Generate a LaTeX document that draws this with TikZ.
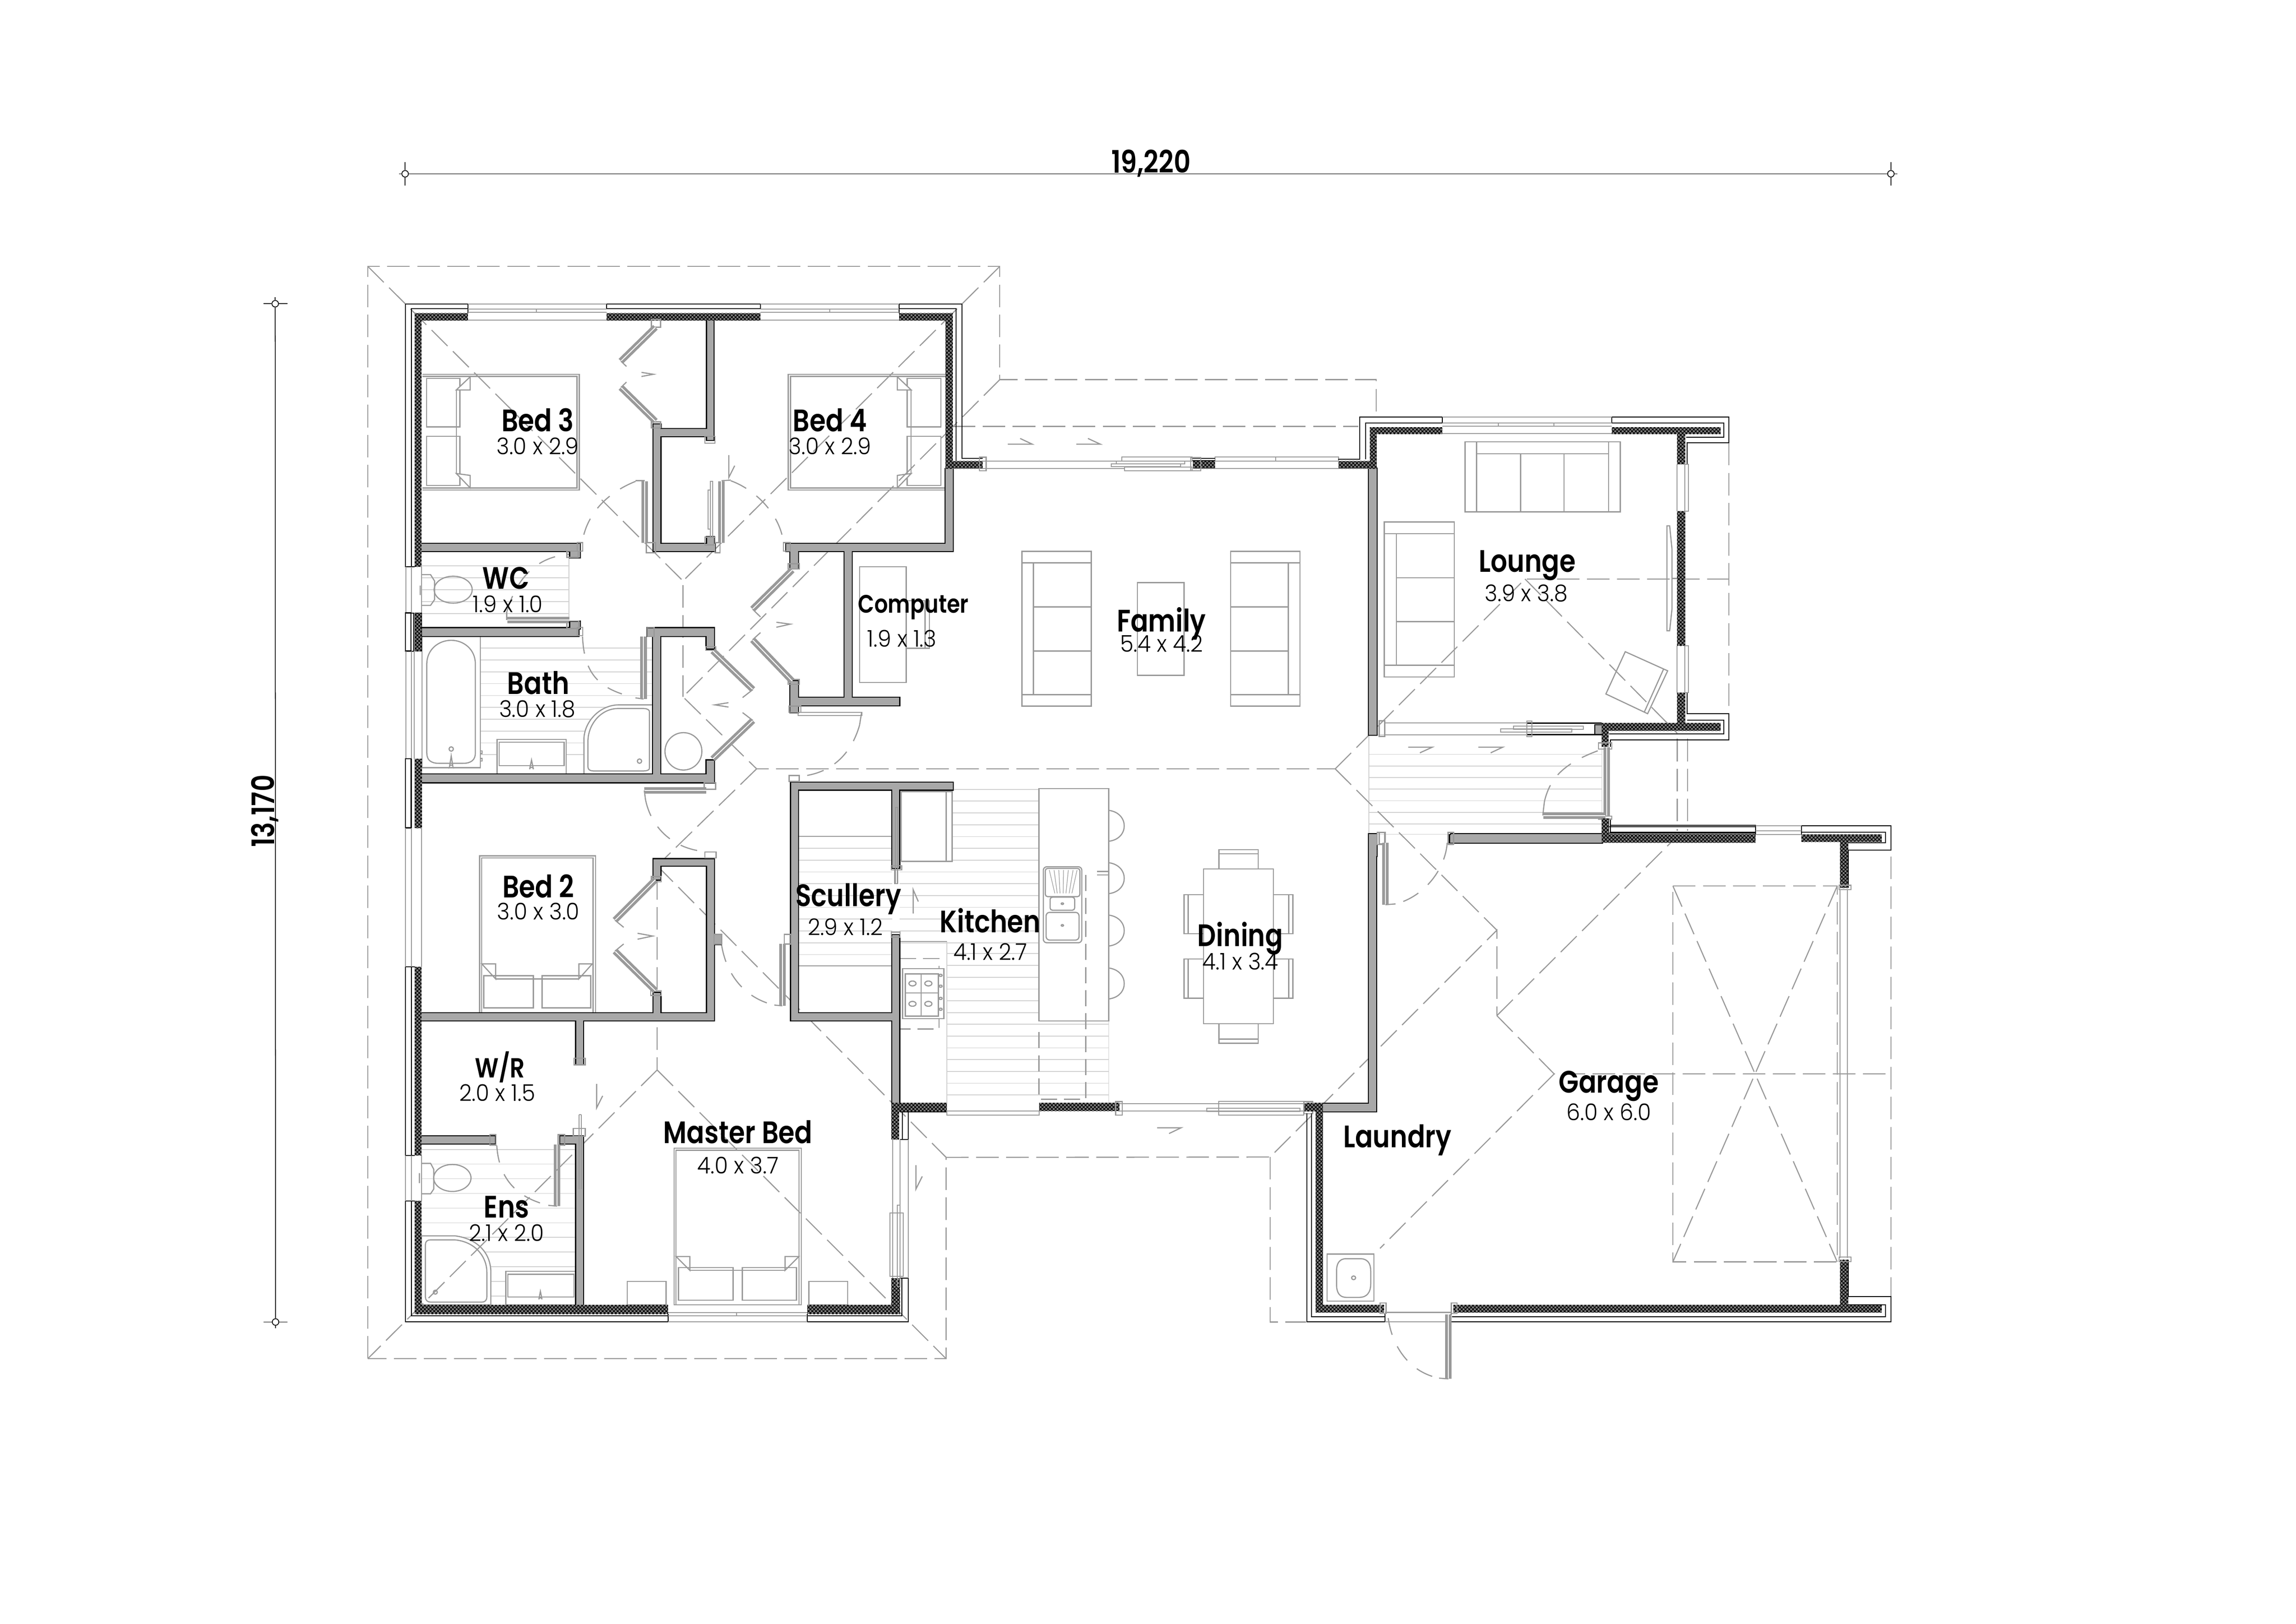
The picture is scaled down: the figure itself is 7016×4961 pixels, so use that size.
\documentclass[tikz,border=0pt]{standalone}
\usepackage{fontspec}
\setmainfont{Poppins}
\newfontfamily\labelfont[FakeStretch=0.84]{Poppins SemiBold}
\newfontfamily\sizefont[FakeStretch=0.95]{Poppins Light}
\usetikzlibrary{patterns.meta}
\definecolor{plangrey}{HTML}{999999}
\definecolor{wallgrey}{HTML}{A8A8A8}
\definecolor{tilegrey}{HTML}{D0D0D0}
\tikzset{
viewA/.style={shift={(1100,780)},xscale=1.2117,yscale=.9566},
viewB/.style={shift={(1100,2300)},xscale=1.2117,yscale=1.2117},
viewC/.style={shift={(2300,2300)},xscale=1.2117,yscale=.8291},
viewD/.style={shift={(3900,1200)},xscale=1.0204,yscale=.9566},
viewE/.style={shift={(3900,2500)},xscale=1.2436,yscale=1.148},
viewF/.style={shift={(2600,1100)},xscale=1.0204,yscale=.8291},
viewG/.style={shift={(1150,1850)},xscale=.829,yscale=.4464},
furn/.style={draw=plangrey,line width=1pt},
whitefurn/.style={furn,fill=white},
tile/.style={draw=tilegrey,line width=.7pt},
roofline/.style={draw=plangrey,line width=.95pt,dash pattern=on 19.6pt off 6.5pt},
swing/.style={draw=plangrey,line width=1pt,dash pattern=on 15pt off 11pt},
leaf/.style={draw=plangrey,line width=2.4pt,double=white,double distance=.8pt},
chevron/.style={draw=plangrey,line width=1pt},
wallline/.style={draw=black,line width=1.8pt},
wallfill/.style={fill=wallgrey},
brick/.style={preaction={fill=black},pattern={Dots[distance=2.3pt,radius=.95pt,angle=45]},pattern color=gray},
clad/.style={draw=black,line width=.8pt},
jamb/.style={draw=plangrey,line width=1pt},
glass/.style={draw=plangrey,line width=.8pt},
roomname/.style={font=\labelfont\fontsize{27}{30}\selectfont,inner sep=0pt},
roomsize/.style={font=\sizefont\fontsize{20}{23}\selectfont,inner sep=0pt},
dimend/.style={circle,draw=black,fill=white,line width=.7pt,minimum size=5.7pt,inner sep=0pt},
dimline/.style={draw=black,line width=.7pt},
}
\newcommand{\wallsA}{875/208/892/590, 758/555/875/578, 740/540/758/945, 740/922/895/945, 875/900/893/925, 155/922/555/945, 530/945/555/965, 1477/682/1495/945, 1075/922/1495/945, 1085/945/1105/1000, 1222/945/1240/1415, 1085/1360/1105/1460, 1105/1413/1360/1437, 530/1170/555/1192}
\newcommand{\wallsB}{875/268/893/675, 740/268/893/285, 740/268/758/320, 740/605/758/660, 155/657/893/675, 890/460/910/482, 545/675/563/785, 155/967/340/985, 505/967/563/985, 545/967/563/1392, 1087/75/1495/93, 1087/75/1105/675, 1342/93/1360/290, 1342/460/1360/885, 1087/657/1342/675}
\newcommand{\wallsG}{168/155/745/208, 1000/155/1245/208, 1020/208/1047/1155, 1217/208/1245/295, 1217/1060/1245/1210, 168/1155/1245/1210}
\newcommand{\wallsD}{277/242/300/1092, 955/1062/975/1090, 520/1412/975/1437, 277/1410/300/1480}
\newcommand{\wallsE}{228/42/245/780, 115/760/245/780, 430/42/800/63}
\newcommand{\wallpass}[1]{%
  \begin{scope}[viewA]\foreach \xa/\ya/\xb/\yb in \wallsA {\path[#1] (\xa,\ya) rectangle (\xb,\yb);}\end{scope}
  \begin{scope}[viewB]\foreach \xa/\ya/\xb/\yb in \wallsB {\path[#1] (\xa,\ya) rectangle (\xb,\yb);}\end{scope}
  \begin{scope}[viewG]\foreach \xa/\ya/\xb/\yb in \wallsG {\path[#1] (\xa,\ya) rectangle (\xb,\yb);}\end{scope}
  \begin{scope}[viewD]\foreach \xa/\ya/\xb/\yb in \wallsD {\path[#1] (\xa,\ya) rectangle (\xb,\yb);}\end{scope}
  \begin{scope}[viewE]\foreach \xa/\ya/\xb/\yb in \wallsE {\path[#1] (\xa,\ya) rectangle (\xb,\yb);}\end{scope}
}
\begin{document}
\begin{tikzpicture}[x=0.01cm,y=-0.01cm]
\useasboundingbox (0,0) rectangle (7016,4961);
\fill[white] (0,0) rectangle (7016,4961);

% tiles
\begin{scope}[viewG]
\foreach \y in {292,373,...,1095} \draw[tile] (383,\y) -- (1020,\y);
\end{scope}
\begin{scope}[viewA]
\foreach \y in {992,1030,...,1180} \draw[tile] (155,\y) -- (527,\y);
\draw[tile] (527,945) -- (527,1192);
\end{scope}
\begin{scope}[viewB]
\foreach \y in {1000,1037,...,1380} \draw[tile] (155,\y) -- (545,\y);
\end{scope}
\begin{scope}[viewC]
\foreach \y in {178,221.5,...,700} \draw[tile] (505,\y) -- (722,\y);
\foreach \y in {352,395.5,...,770} \draw[tile] (115,\y) -- (352,\y);
\foreach \y in {395.5,439,...,700} \draw[tile] (370,\y) -- (505,\y);
\foreach \y in {740,783.5,...,1000} \draw[tile] (490,\y) -- (722,\y);
\foreach \y in {1000,1043.5,...,1280} \draw[tile] (490,\y) -- (898,\y);
\draw[tile] (505,135) -- (722,135);
\draw[tile] (898,988) -- (898,1290) (490,695) -- (490,1290);
\end{scope}
\begin{scope}[viewD]
\foreach \y in {1155,1192,...,1385} \draw[tile] (277,\y) -- (975,\y);
\draw[tile] (277,1093) -- (975,1093) (277,1093) -- (277,1410) -- (975,1410) (975,1093) -- (975,1410);
\end{scope}

% bath and wc fittings
\begin{scope}[viewG]
\draw[whitefurn] (168,208) rectangle (383,1110);
\draw[furn] (186,1010) -- (186,400) .. controls (186,300) and (230,238) .. (276,238) .. controls (322,238) and (365,300) .. (365,400) -- (365,1010) .. controls (365,1055) and (350,1080) .. (320,1080) -- (230,1080) .. controls (200,1080) and (186,1055) .. (186,1010);
\draw[furn] (276,982) ellipse (8 and 15);
\draw[furn] (276,1030) -- (270,1100) arc (180:360:6 and 8) -- cycle;
\draw[furn] (383,995) rectangle (390,1012) (383,1047) rectangle (390,1065);
\draw[whitefurn] (445,917) rectangle (700,1153);
\draw[furn] (453,935) rectangle (692,1095);
\draw[furn] (572,1058) -- (565,1120) arc (180:360:7 and 13) -- cycle;
\draw[furn] (538,1153) rectangle (548,1163) (596,1153) rectangle (606,1163);
\draw[whitefurn] (765,1155) -- (765,920) .. controls (765,800) and (820,685) .. (890,680) -- (1020,680) -- (1020,1155) -- cycle;
\draw[furn] (780,1105) -- (780,930) .. controls (780,810) and (830,705) .. (890,705) -- (985,705) .. controls (1000,705) and (1007,715) .. (1007,730) -- (1007,1110) .. controls (1007,1125) and (1000,1132) .. (985,1132) -- (800,1132) .. controls (787,1132) and (780,1122) .. (780,1105);
\draw[furn] (970,1065) ellipse (8 and 15);
\draw[furn] (1132,998) ellipse (68 and 128);
% bath door
\draw[leaf] (985,212) -- (985,640);
\draw[furn] (985,640) -- (955,632);
\draw[swing] (760,212) .. controls (765,420) and (800,540) .. (905,605);
\end{scope}
\begin{scope}[viewA]
\draw[furn] (155,1020) -- (178,1020) -- (188,1040) -- (188,1100) -- (178,1118) -- (155,1118) (152,1055) -- (152,1085);
\draw[furn] (235,1068) ellipse (48 and 43);
\draw[leaf] (372,1165) -- (528,1165);
\draw[furn] (370,1165) -- (370,1140);
\draw[swing] (370,1140) .. controls (400,1010) and (460,960) .. (530,955);
\end{scope}
\begin{scope}[viewB]
\draw[furn] (155,1035) -- (178,1035) -- (186,1050) -- (186,1100) -- (178,1112) -- (155,1112) (150,1060) -- (150,1085);
\draw[furn] (233,1072) ellipse (47 and 34);
\draw[whitefurn] (155,1218) -- (240,1218) .. controls (295,1225) and (330,1260) .. (330,1310) -- (330,1392) -- (155,1392) -- cycle;
\draw[furn] (165,1240) .. controls (165,1232) and (170,1228) .. (178,1228) -- (238,1228) .. controls (290,1232) and (320,1270) .. (320,1310) -- (320,1372) .. controls (320,1380) and (315,1385) .. (308,1385) -- (178,1385) .. controls (170,1385) and (165,1380) .. (165,1372) -- cycle;
\draw[furn] (190,1360) circle (5);
\draw[whitefurn] (368,1307) rectangle (545,1392);
\draw[furn] (373,1315) rectangle (540,1372);
\draw[furn] (455,1358) -- (451,1378) arc (180:360:4) -- cycle;
\draw[leaf] (497,988) -- (497,1143);
\draw[furn] (497,1143) -- (475,1141);
\draw[swing] (345,990) .. controls (350,1070) and (390,1120) .. (475,1141);
\end{scope}

% beds
\begin{scope}[viewA]
\draw[furn] (158,380) -- (553,380) -- (553,750) -- (158,750);
\draw[furn] (158,387) -- (547,387) -- (547,743) -- (158,743);
\draw[furn] (168,393) rectangle (252,548) (168,578) rectangle (252,735);
\draw[whitefurn] (243,430) -- (278,388) -- (278,430) -- cycle;
\draw[whitefurn] (243,697) -- (278,743) -- (278,703) -- cycle;
\draw[furn] (243,430) -- (243,697);
\draw[furn] (1477,380) -- (1080,380) -- (1080,750) -- (1477,750);
\draw[furn] (1477,387) -- (1086,387) -- (1086,743) -- (1477,743);
\draw[furn] (1380,393) rectangle (1465,548) (1380,578) rectangle (1465,735);
\draw[whitefurn] (1390,430) -- (1355,388) -- (1355,430) -- cycle;
\draw[whitefurn] (1390,697) -- (1355,743) -- (1355,703) -- cycle;
\draw[furn] (1390,430) -- (1390,697);
\end{scope}
\begin{scope}[viewB]
\draw[furn] (302,655) -- (302,260) -- (594,260) -- (594,655);
\draw[furn] (307,655) -- (307,265) -- (588,265) -- (588,655);
\draw[furn] (312,562) rectangle (437,643) (459,562) rectangle (582,643);
\draw[furn] (307,532) -- (342,532) -- (342,570) -- cycle;
\draw[furn] (586,532) -- (552,532) -- (552,570) -- cycle;
\draw[furn] (342,570) -- (552,570);
\draw[furn] (792,1392) -- (792,997) -- (1113,997) -- (1113,1392) -- cycle;
\draw[furn] (797,1392) -- (797,1002) -- (1107,1002) -- (1107,1392);
\draw[furn] (803,1298) rectangle (941,1380) (964,1298) rectangle (1101,1380);
\draw[furn] (797,1270) -- (832,1270) -- (832,1305) -- cycle;
\draw[furn] (1107,1270) -- (1072,1270) -- (1072,1305) -- cycle;
\draw[furn] (832,1305) -- (1072,1305);
\draw[furn] (674,1333) rectangle (772,1392) (1132,1333) rectangle (1230,1392);
\end{scope}

% kitchen and dining
\begin{scope}[viewC]
\draw[furn] (115,308) -- (352,308) (115,785) -- (352,785);
\draw[whitefurn] (375,143) rectangle (503,400);
\draw[furn] (488,143) -- (488,400);
\draw[furn] (358,200) rectangle (365,482);
\draw[whitefurn] (722,132) rectangle (898,988);
\foreach \y in {212,405,598,793} \draw[furn] (898,\y) .. controls (950,\y+10) and (950,\y+105) .. (898,\y+114);
\draw[whitefurn,rounded corners=3pt] (733,420) rectangle (830,700);
\draw[furn,rounded corners=2pt] (738,426) rectangle (825,530);
\foreach \xa/\xb in {748/762,760/768,772/775,784/783,796/790,808/798,818/805} \draw[furn,line width=.5pt] (\xa,432) -- (\xb,518);
\draw[furn,rounded corners=2pt] (750,532) rectangle (812,580);
\draw[furn] (781,556) circle (3);
\draw[furn,rounded corners=3pt] (740,588) rectangle (823,690);
\draw[furn] (781,636) circle (3);
\draw[furn] (868,437) -- (898,437) (868,450) -- (898,450);
\draw[draw=plangrey,line width=1pt,dash pattern=on 14pt off 6pt] (840,450) -- (840,1277) -- (722,1277) -- (722,1005);
\draw[furn] (370,695) -- (490,695);
\draw[draw=plangrey,line width=1pt,dash pattern=on 14pt off 6pt] (372,758) -- (470,758) -- (470,1018) -- (372,1018);
\draw[whitefurn] (378,795) rectangle (482,980);
\draw[furn] (385,815) rectangle (468,970) (385,885) -- (468,885) (425,815) -- (425,970);
\foreach \xa/\ya in {403/850,443/850,403/925,443/925} \draw[furn] (\xa,\ya) circle (9);
\foreach \ya in {820,860,905,945} \draw[furn] (474,\ya) circle (4);
\draw[furn] (1137,428) rectangle (1313,998);
\draw[furn] (1176,428) -- (1176,357) -- (1275,357) -- (1275,428) (1176,372) -- (1275,372);
\draw[furn] (1176,998) -- (1176,1070) -- (1275,1070) -- (1275,998) (1176,1055) -- (1275,1055);
\foreach \ya in {523,760} {
  \draw[furn] (1137,\ya) -- (1088,\ya) -- (1088,\ya+144) -- (1137,\ya+144) (1098,\ya) -- (1098,\ya+144);
  \draw[furn] (1313,\ya) -- (1362,\ya) -- (1362,\ya+144) -- (1313,\ya+144) (1352,\ya) -- (1352,\ya+144);
}
\end{scope}

% family and computer
\begin{scope}[viewF]
\foreach \xa/\xb/\xc in {512/720/547,1137/1345/1310} {
  \draw[furn] (\xa,705) rectangle (\xb,1275);
  \draw[furn] (\xa,747) -- (\xb,747) (\xa,1233) -- (\xb,1233) (\xc,747) -- (\xc,1233);
}
\draw[furn] (547,910) -- (720,910) (547,1072) -- (720,1072);
\draw[furn] (1137,910) -- (1310,910) (1137,1072) -- (1310,1072);
\draw[furn] (858,820) rectangle (998,1162);
\draw[furn] (26,762) rectangle (166,1188);
\draw[furn] (166,887) -- (235,887) -- (235,1062) -- (166,1062) (222,887) -- (222,1062);
\end{scope}

% lounge and sink
\begin{scope}[viewD]
\draw[furn] (565,157) rectangle (1030,380);
\draw[furn] (600,157) -- (600,380) (995,157) -- (995,380) (600,195) -- (995,195) (732,195) -- (732,380) (862,195) -- (862,380);
\draw[furn] (323,413) rectangle (533,908);
\draw[furn] (323,450) -- (533,450) (323,870) -- (533,870) (360,450) -- (360,870) (360,591) -- (533,591) (360,731) -- (533,731);
\draw[furn] (1045,827) -- (1172,888) -- (1112,1025) -- (987,962) -- cycle;
\draw[furn] (1160,882) -- (1102,1020);
\draw[furn] (1170,425) -- (1178,425) -- (1185,500) -- (1185,690) -- (1178,760) -- (1170,760) -- cycle;
\draw[furn] (1185,593) -- (1200,593);
\end{scope}
\begin{scope}[viewE]
\draw[furn] (125,1160) rectangle (240,1285);
\draw[furn] (172,1172) -- (205,1172) .. controls (225,1172) and (232,1185) .. (232,1205) -- (232,1240) .. controls (232,1262) and (222,1275) .. (205,1275) -- (172,1275) .. controls (155,1275) and (148,1262) .. (148,1240) -- (148,1205) .. controls (148,1185) and (155,1172) .. (172,1172);
\draw[furn] (190,1223) circle (5);
\end{scope}

% roof
\draw[roofline] (1124,4151) -- (1124,814) -- (3055,814) -- (3055,1160) -- (4205,1160) -- (4205,1275);
\draw[roofline] (1124,814) -- (2087,1775);
\draw[roofline] (3055,814) -- (2087,1775) -- (2087,2129);
\draw[roofline] (3055,1160) -- (2087,2129) -- (2312,2349) -- (4080,2349);
\draw[roofline] (2911,1303) -- (4151,1303);
\draw[roofline] (2312,2349) -- (2008,2645) -- (2008,3269);
\draw[roofline] (2008,2645) -- (2891,3536) -- (2891,4151) -- (1124,4151);
\draw[roofline] (2008,3269) -- (1124,4151);
\draw[roofline] (2008,3269) -- (2891,4151);
\draw[roofline] (2891,3536) -- (3881,3535) -- (4574,2842) -- (4574,3103);
\draw[roofline] (3881,3535) -- (3881,4039) -- (3990,4039);
\draw[roofline] (4080,2349) -- (4574,2842);
\draw[roofline] (4080,2349) -- (4660,1769) -- (5283,1769);
\draw[roofline] (4660,1769) -- (5125,2240);
\draw[roofline] (5283,1353) -- (5283,2180);
\draw[roofline] (5125,2257) -- (5125,2539) (5157,2257) -- (5157,2539);
\draw[roofline] (4574,3103) -- (5125,2555);
\draw[roofline] (4574,3103) -- (4749,3281) -- (5778,3281);
\draw[roofline] (4749,3281) -- (4217,3814);
\draw[roofline] (5778,2525) -- (5778,4038);
\draw[roofline] (5112,2707) -- (5614,2707) -- (5614,3855) -- (5112,3855) -- cycle;
\draw[roofline] (5112,2707) -- (5614,3855) (5614,2707) -- (5112,3855);

% walls
\wallpass{wallline}
\wallpass{wallfill}

% brick walls
\begin{scope}[viewA]
\foreach \xa/\ya/\xb/\yb in {138/185/272/208, 622/185/1010/208, 1360/185/1495/208, 138/185/155/995, 138/1143/155/1265, 1477/185/1495/682} \path[brick] (\xa,\ya) rectangle (\xb,\yb);
\draw[clad] (272,185) -- (272,155) -- (115,155) -- (115,995) -- (138,995);
\draw[clad] (272,170) -- (130,170) -- (130,995);
\draw[clad] (622,170) rectangle (1010,155);
\draw[clad] (1360,185) -- (1360,155) -- (1518,155) -- (1518,648) -- (1570,648);
\draw[clad] (1360,170) -- (1503,170) -- (1503,660) -- (1570,660);
\draw[clad] (115,1143) -- (135,1143) -- (135,1265) -- (115,1265) -- cycle;
\draw[glass] (272,155) -- (622,155) (272,172) -- (622,172) (272,182) -- (622,182) (272,207) -- (622,207);
\draw[glass] (1010,155) -- (1360,155) (1010,172) -- (1360,172) (1010,182) -- (1360,182) (1010,207) -- (1360,207);
\draw[glass] (445,172) -- (445,182) (1185,172) -- (1185,182);
\foreach \xa/\ya/\xb/\yb in {735/205/758/230, 735/532/758/552, 870/578/895/600, 722/918/745/950, 870/900/895/925, 895/918/908/950, 548/918/562/945, 522/945/550/965, 522/1168/552/1192, 548/1188/562/1215, 725/1188/742/1218, 872/1250/897/1262, 1068/918/1085/945, 1080/985/1108/1002, 1080/1355/1108/1370, 1082/1440/1112/1460} \draw[jamb] (\xa,\ya) rectangle (\xb,\yb);
\end{scope}
\begin{scope}[viewB]
\foreach \xa/\ya/\xb/\yb in {138/15/155/190, 138/540/155/1015, 138/1130/155/1415, 138/1392/777/1415, 1128/1392/1362/1415, 1340/885/1360/975, 1340/1325/1362/1415, 1342/885/1480/905} \path[brick] (\xa,\ya) rectangle (\xb,\yb);
\draw[clad] (115,15) rectangle (130,190);
\draw[clad] (138,540) -- (115,540) -- (115,1015) -- (138,1015) (130,540) -- (130,1015);
\draw[clad] (138,1130) -- (115,1130) -- (115,1435) -- (777,1435) -- (777,1415) (130,1130) -- (130,1420) -- (777,1420);
\draw[clad] (1128,1415) -- (1128,1435) -- (1383,1435) -- (1383,1325) -- (1362,1325) (1128,1420) -- (1367,1420) -- (1367,1325);
\draw[clad] (1383,905) -- (1383,975) -- (1362,975) (1368,905) -- (1368,975) (1362,905) -- (1480,905);
\draw[glass] (115,190) -- (115,540) (130,190) -- (130,540) (155,190) -- (155,540);
\draw[glass] (115,1015) -- (115,1130) (130,1015) -- (130,1130) (155,1015) -- (155,1130);
\draw[glass] (777,1412) -- (1128,1412) (777,1420) -- (1128,1420) (777,1435) -- (1128,1435);
\draw[glass] (950,1412) -- (950,1420);
\draw[glass] (1343,975) -- (1343,1325) (1383,975) -- (1383,1325) (1362,975) -- (1362,1160);
\draw[glass] (1337,1160) rectangle (1370,1320);
\draw[glass] (1355,1140) rectangle (1362,1345);
\draw[glass] (553,912) -- (553,1100) (558,912) -- (558,1100) (553,912) -- (558,912);
\draw[glass] (1350,138) rectangle (1356,330);
\foreach \xa/\ya/\xb/\yb in {735/312/760/325, 733/600/760/612, 870/250/898/265, 540/770/568/787, 328/963/343/990, 500/963/516/990, 1070/458/1087/482, 1082/57/1108/72, 868/75/897/92, 1340/285/1366/295, 1340/452/1362/465, 893/458/912/482, 538/947/568/967} \draw[jamb] (\xa,\ya) rectangle (\xb,\yb);
\end{scope}
\begin{scope}[viewC]
\foreach \xa/\ya/\xb/\yb in {352/1290/490/1320, 722/1290/925/1320, 1395/1290/1437/1320} \path[brick] (\xa,\ya) rectangle (\xb,\yb);
\draw[glass] (490,1320) rectangle (722,1335);
\draw[glass] (925,1293) -- (1395,1293) (925,1320) -- (1395,1320);
\draw[glass] (1175,1285) rectangle (1390,1335);
\draw[glass] (1145,1310) rectangle (1380,1322);
\draw[jamb] (915,1285) rectangle (932,1335) (1390,1285) rectangle (1412,1330);
\end{scope}
\begin{scope}[viewF]
\foreach \xa/\ya/\xb/\yb in {283/372/395/400, 1025/372/1090/400, 1460/372/1568/400} \path[brick] (\xa,\ya) rectangle (\xb,\yb);
\draw[glass] (395,372) -- (820,372) (395,400) -- (820,400);
\draw[glass] (1090,372) -- (1460,372) (1090,400) -- (1460,400) (1090,358) rectangle (1460,372);
\draw[glass] (1272,358) -- (1272,372);
\draw[clad] (1022,363) -- (1090,363) (1022,370) -- (1090,370);
\draw[glass] (812,358) rectangle (1022,372) (820,395) rectangle (1022,408) (780,382) rectangle (988,392) (795,372) rectangle (1000,382);
\draw[jamb] (385,358) rectangle (405,408) (1018,360) rectangle (1048,408);
\end{scope}
\begin{scope}[viewD]
\foreach \xa/\ya/\xb/\yb in {280/110/300/243, 280/110/497/132, 1005/110/1330/132, 1200/132/1225/228, 1200/378/1225/808, 1200/958/1225/1055, 975/1055/1330/1080, 975/1080/995/1130, 975/1360/995/1410, 975/1410/1435/1437} \path[brick] (\xa,\ya) rectangle (\xb,\yb);
\draw[clad] (185,213) -- (250,213) -- (250,78) -- (497,78) -- (497,97) -- (268,97) -- (268,213);
\draw[clad] (1005,97) -- (1005,78) -- (1355,78) -- (1355,160) -- (1230,160) -- (1230,228);
\draw[clad] (1005,97) -- (1340,97) -- (1340,142) -- (1228,142);
\draw[clad] (1230,958) -- (1230,1025) -- (1355,1025) -- (1355,1108) -- (1000,1108) -- (1000,1130);
\draw[clad] (1230,1045) -- (1340,1045) -- (1340,1090) -- (997,1090);
\draw[clad] (1000,1360) -- (1000,1403) -- (1435,1403) -- (1435,1382) -- (1000,1382);
\draw[glass] (497,78) -- (1005,78) (497,97) -- (1005,97) (497,107) -- (1005,107) (497,130) -- (1005,130);
\draw[glass] (665,97) -- (665,107) (832,97) -- (832,107);
\draw[glass] (1200,228) -- (1200,378) (1224,228) rectangle (1235,378);
\draw[glass] (1200,808) -- (1200,958) (1224,808) rectangle (1235,958);
\draw[glass] (325,1055) -- (750,1055) (325,1093) -- (750,1093);
\draw[clad,line width=1.1pt] (750,1055) -- (975,1055) (750,1092) -- (975,1092);
\draw[glass] (710,1065) rectangle (920,1075) (672,1073) rectangle (885,1083) (750,1048) rectangle (765,1098);
\draw[jamb] (308,1048) rectangle (325,1098) (308,1405) rectangle (325,1440) (515,1405) rectangle (530,1442);
\draw[jamb] (965,1118) rectangle (1005,1138) (965,1352) rectangle (1005,1362);
\draw[leaf] (990,1132) -- (990,1350);
\draw[leaf] (800,1350) -- (985,1350);
\draw[furn] (798,1350) -- (803,1305);
\draw[swing] (803,1305) .. controls (820,1230) and (860,1180) .. (985,1135);
\end{scope}
\begin{scope}[viewE]
\foreach \xa/\ya/\xb/\yb in {800/0/818/63, 800/43/1177/63, 1290/43/1488/63, 1385/63/1405/185, 1385/1175/1405/1315, 97/1295/265/1315, 435/1295/1488/1315, 97/780/115/1315, 70/760/115/780} \path[brick] (\xa,\ya) rectangle (\xb,\yb);
\draw[clad] (818,22) -- (1177,22) -- (1177,43) (818,40) -- (1177,40);
\draw[clad] (1290,43) -- (1290,20) -- (1510,20) -- (1510,85) -- (1405,85) -- (1405,185);
\draw[clad] (1290,37) -- (1497,37) -- (1497,65) -- (1405,65);
\draw[clad] (1405,1175) -- (1405,1273) -- (1510,1273) -- (1510,1340) -- (430,1340) -- (430,1318);
\draw[clad] (1405,1295) -- (1497,1295) -- (1497,1327) -- (432,1327);
\draw[clad] (75,785) -- (75,1340) -- (267,1340) -- (267,1318) (87,785) -- (87,1327) -- (267,1327);
\draw[glass] (1177,20) -- (1290,20) (1177,33) -- (1290,33) (1177,43) -- (1290,43);
\draw[glass] (1385,190) -- (1385,1170) (1403,190) -- (1403,1170);
\draw[jamb] (1383,178) rectangle (1412,190) (1383,1168) rectangle (1412,1180);
\draw[glass] (267,1315) -- (430,1315) (267,1340) -- (430,1340);
\draw[jamb] (255,1290) rectangle (270,1318) (430,1290) rectangle (444,1318);
\draw[jamb] (248,38) rectangle (268,70) (422,38) rectangle (436,68);
\draw[leaf] (423,1320) -- (423,1492);
\draw[furn] (423,1492) -- (400,1490);
\draw[swing] (275,1330) .. controls (285,1410) and (330,1475) .. (400,1490);
\draw[leaf] (268,65) -- (268,230);
\draw[furn] (268,230) -- (293,228);
\draw[swing] (420,65) .. controls (415,140) and (360,210) .. (293,228);
\end{scope}

% left windows
\draw[glass] (1240,1732) -- (1240,1873) (1257,1732) -- (1257,1873) (1288,1732) -- (1288,1873);
\draw[glass] (1240,1990) -- (1240,2318) (1257,1990) -- (1257,2318) (1266,1990) -- (1266,2318);
\begin{scope}[viewG]
\draw[clad] (108,50) rectangle (127,310);
\draw[brick] (142,50) rectangle (168,310);
\draw[clad] (108,1050) rectangle (127,1520);
\path[brick] (142,1050) rectangle (168,1520);
\end{scope}

% doors
\begin{scope}[viewA]
\draw[leaf] (745,230) -- (658,338);
\draw[furn] (658,338) -- (672,355);
\draw[leaf] (745,530) -- (658,422);
\draw[furn] (658,422) -- (672,405);
\draw[chevron] (710,374) -- (740,380) -- (710,387);
\draw[furn] (695,720) -- (718,720);
\draw[leaf] (718,722) -- (718,918);
\draw[swing] (695,722) .. controls (620,760) and (570,830) .. (560,920);
\draw[furn] (935,718) -- (912,720);
\draw[leaf] (912,722) -- (912,918);
\draw[swing] (935,720) .. controls (1000,750) and (1060,830) .. (1068,918);
\draw[glass] (878,750) rectangle (884,875) (884,722) rectangle (890,900);
\draw[chevron] (930,638) -- (930,710) -- (945,672);
\draw[leaf] (1090,1005) -- (990,1130);
\draw[furn] (990,1130) -- (1010,1155);
\draw[leaf] (1090,1360) -- (990,1228);
\draw[furn] (990,1228) -- (1010,1205);
\draw[chevron] (1050,1172) -- (1085,1178) -- (1050,1188);
\end{scope}
\begin{scope}[viewG]
\draw[leaf] (1240,310) -- (1388,575);
\draw[furn] (1388,575) -- (1350,630);
\draw[leaf] (1240,1050) -- (1388,787);
\draw[furn] (1388,787) -- (1350,733);
\draw[chevron] (1298,665) -- (1248,680) -- (1298,695);
\end{scope}
\begin{scope}[viewB]
\draw[leaf] (745,320) -- (643,422);
\draw[furn] (643,422) -- (665,440);
\draw[leaf] (745,600) -- (643,500);
\draw[furn] (643,500) -- (665,482);
\draw[chevron] (700,455) -- (738,462) -- (700,470);
\draw[leaf] (717,95) -- (873,95);
\draw[furn] (717,95) -- (720,118);
\draw[swing] (720,118) .. controls (735,190) and (790,245) .. (880,250);
\draw[leaf] (1065,482) -- (1065,638);
\draw[furn] (1065,638) -- (1045,636);
\draw[swing] (912,485) .. controls (925,565) and (975,620) .. (1045,636);
\draw[chevron] (597,835) -- (597,895) -- (612,865);
\draw[chevron] (1395,405) -- (1395,345) -- (1408,375);
\draw[chevron] (1402,1040) -- (1402,1100) -- (1418,1068);
\end{scope}
\begin{scope}[viewC]
\draw[chevron] (1020,1382) -- (1080,1382) -- (1050,1403);
\end{scope}
\begin{scope}[viewD]
\draw[chevron] (395,1132) -- (467,1132) -- (430,1150);
\draw[chevron] (605,1132) -- (678,1132) -- (642,1150);
\end{scope}
\begin{scope}[viewF]
\draw[chevron] (470,310) -- (543,310) -- (507,289);
\draw[chevron] (675,310) -- (747,310) -- (710,289);
\end{scope}
\begin{scope}[viewA]
\draw[furn] (1105,1460) rectangle (1265,1470);
\draw[furn] (1265,1460) -- (1260,1500);
\draw[swing] (1260,1500) .. controls (1240,1590) and (1190,1660) .. (1100,1665);
\end{scope}

% room labels
\node[roomname] (bedthree) at (1643,1284) {Bed 3};
\node[roomsize] (bedthreesize) at (1643,1363) {3.0 x 2.9};
\node[roomname] (bedfour) at (2536,1284) {Bed 4};
\node[roomsize] (bedfoursize) at (2536,1363) {3.0 x 2.9};
\node[roomname] (wc) at (1546,1766) {WC};
\node[roomsize] (wcsize) at (1552,1845) {1.9 x 1.0};
\node[roomname] (bath) at (1645,2086) {Bath};
\node[roomsize] (bathsize) at (1642,2166) {3.0 x 1.8};
\node[roomname,font=\labelfont\fontsize{22}{24}\selectfont] (computer) at (2791,1856) {Computer};
\node[roomsize] (computersize) at (2756,1951) {1.9 x 1.3};
\node[roomname] (family) at (3549,1906) {Family};
\node[roomsize] (familysize) at (3549,1966) {5.4 x 4.2};
\node[roomname] (bedtwo) at (1645,2707) {Bed 2};
\node[roomsize] (bedtwosize) at (1645,2784) {3.0 x 3.0};
\node[roomname,font=\labelfont\fontsize{24}{26}\selectfont] (wr) at (1528,3260) {W/R};
\node[roomsize] (wrsize) at (1520,3338) {2.0 x 1.5};
\node[roomname] (ens) at (1548,3688) {Ens};
\node[roomsize] (enssize) at (1548,3766) {2.1 x 2.0};
\node[roomname] (master) at (2255,3458) {Master Bed};
\node[roomsize] (mastersize) at (2255,3560) {4.0 x 3.7};
\node[roomname] (scullery) at (2592,2747) {Scullery};
\node[roomsize] (scullerysize) at (2583,2832) {2.9 x 1.2};
\node[roomname] (kitchen) at (3026,2812) {Kitchen};
\node[roomsize] (kitchensize) at (3026,2908) {4.1 x 2.7};
\node[roomname] (dining) at (3790,2867) {Dining};
\node[roomsize] (diningsize) at (3790,2937) {4.1 x 3.4};
\node[roomname] (lounge) at (4667,1728) {Lounge};
\node[roomsize] (loungesize) at (4664,1813) {3.9 x 3.8};
\node[roomname] (garage) at (4916,3318) {Garage};
\node[roomsize] (garagesize) at (4916,3397) {6.0 x 6.0};
\node[roomname] (laundry) at (4270,3483) {Laundry};

% dimensions
\node[dimend] (dimwest) at (1238,531) {};
\node[dimend] (dimeast) at (5778,531) {};
\node[dimend] (dimnorth) at (841,928) {};
\node[dimend] (dimsouth) at (842,4039) {};
\draw[dimline] (dimwest) -- (dimeast);
\draw[dimline] (dimnorth) -- (dimsouth);
\draw[dimline] (1238,495) -- (dimwest) -- (1238,567) (1219,531) -- (dimwest);
\draw[dimline] (5778,495) -- (dimeast) -- (5778,567) (5798,531) -- (dimeast);
\draw[dimline] (805,928) -- (dimnorth) -- (878,928) (841,908) -- (dimnorth);
\draw[dimline] (805,4039) -- (dimsouth) -- (878,4039) (842,4058) -- (dimsouth);
\node[roomname] (dimwidth) at (3517,499) {19,220};
\node[roomname,rotate=90] (dimdepth) at (810,2478) {13,170};
\end{tikzpicture}
\end{document}
